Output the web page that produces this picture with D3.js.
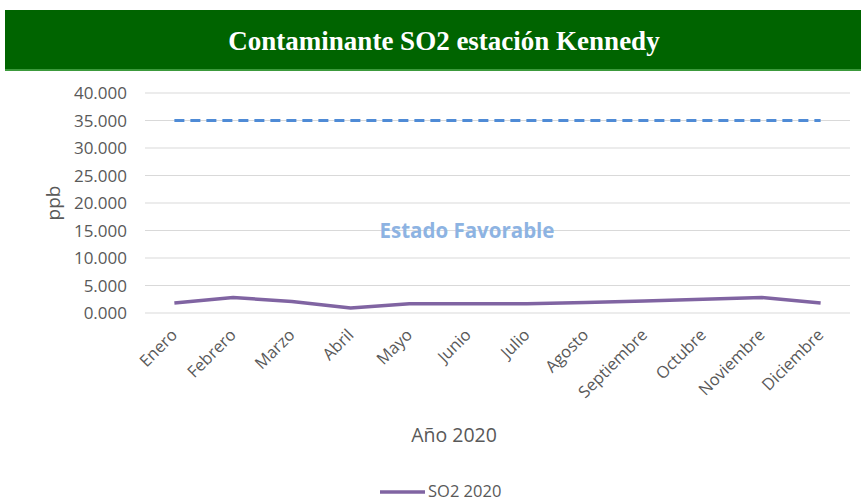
<!DOCTYPE html>
<html>
<head>
<meta charset="utf-8">
<script src="https://cdn.jsdelivr.net/npm/d3@7"></script>
<style>
  body { margin: 0; background: #fff; }
  text { font-family: "Open Sans", "DejaVu Sans", sans-serif; }
</style>
</head>
<body>
<div id="chart"></div>
<script>
// Datos
var months = ['Enero', 'Febrero', 'Marzo', 'Abril', 'Mayo', 'Junio', 'Julio',
              'Agosto', 'Septiembre', 'Octubre', 'Noviembre', 'Diciembre'];
var so2 = [1.8, 2.8, 2.1, 0.9, 1.7, 1.7, 1.7, 1.9, 2.2, 2.5, 2.8, 1.8];
var limit = [35, 35, 35, 35, 35, 35, 35, 35, 35, 35, 35, 35];
var yTicks = [0, 5, 10, 15, 20, 25, 30, 35, 40];

var W = 861, H = 501;
var svg = d3.select('#chart').append('svg')
    .attr('width', W)
    .attr('height', H);

// Banner del titulo
svg.append('rect')
    .attr('x', 5).attr('y', 10)
    .attr('width', W - 5).attr('height', 60)
    .attr('fill', '#006400');
svg.append('rect')
    .attr('x', 5).attr('y', 69)
    .attr('width', W - 5).attr('height', 2)
    .attr('fill', '#3c9a3c');
svg.append('text')
    .attr('x', 444).attr('y', 50)
    .attr('text-anchor', 'middle')
    .style('font-family', '"Liberation Serif", "Times New Roman", serif')
    .style('font-weight', 'bold')
    .style('font-size', '27px')
    .attr('fill', '#fff')
    .text('Contaminante SO2 estación Kennedy');

var x = d3.scaleBand().domain(months).range([145, 850]);
var y = d3.scaleLinear().domain([0, 40]).range([313, 93]);
var cx = function(d) { return x(d) + x.bandwidth() / 2; };

// Lineas de cuadricula
svg.selectAll('.grid')
    .data(yTicks).enter()
    .append('line')
      .attr('x1', 145).attr('x2', 850)
      .attr('y1', function(d) { return y(d); })
      .attr('y2', function(d) { return y(d); })
      .attr('stroke', '#d9d9d9')
      .attr('stroke-width', 1);

// Etiquetas del eje Y
svg.selectAll('.ylab')
    .data(yTicks).enter()
    .append('text')
      .attr('x', 127)
      .attr('y', function(d) { return y(d) + 6; })
      .attr('text-anchor', 'end')
      .style('font-size', '17px')
      .attr('fill', '#595959')
      .text(function(d) { return d3.format(',.3f')(d).replace(',', '.'); });

svg.append('text')
    .attr('transform', 'translate(60,203) rotate(-90)')
    .attr('text-anchor', 'middle')
    .style('font-size', '19px')
    .attr('fill', '#595959')
    .text('ppb');

// Etiquetas del eje X
svg.selectAll('.xlab')
    .data(months).enter()
    .append('text')
      .attr('transform', function(d) {
        return 'translate(' + (cx(d) + 4) + ',336) rotate(-45)';
      })
      .attr('text-anchor', 'end')
      .style('font-size', '16.5px')
      .attr('fill', '#595959')
      .text(function(d) { return d; });

svg.append('text')
    .attr('x', 454).attr('y', 442)
    .attr('text-anchor', 'middle')
    .style('font-size', '19.5px')
    .attr('fill', '#595959')
    .text('Año 2020');

var line = d3.line()
    .x(function(d, i) { return cx(months[i]); })
    .y(function(d) { return y(d); });

// Limite 35 ppb
svg.append('path')
    .datum(limit)
    .attr('d', line)
    .attr('fill', 'none')
    .attr('stroke', '#4f8bd6')
    .attr('stroke-width', 3)
    .attr('stroke-dasharray', '10,6');

svg.append('text')
    .attr('x', 467).attr('y', 238)
    .attr('text-anchor', 'middle')
    .style('font-size', '20.5px')
    .style('font-weight', 'bold')
    .attr('fill', '#8db3e2')
    .text('Estado Favorable');

// Serie SO2
svg.append('path')
    .datum(so2)
    .attr('d', line)
    .attr('fill', 'none')
    .attr('stroke', '#8064a2')
    .attr('stroke-width', 3.5)
    .attr('stroke-linejoin', 'round');

// Leyenda
svg.append('line')
    .attr('x1', 380).attr('x2', 425)
    .attr('y1', 492).attr('y2', 492)
    .attr('stroke', '#8064a2')
    .attr('stroke-width', 3.5);
svg.append('text')
    .attr('x', 428).attr('y', 497)
    .style('font-size', '16.5px')
    .attr('fill', '#595959')
    .text('SO2 2020');
</script>
</body>
</html>
